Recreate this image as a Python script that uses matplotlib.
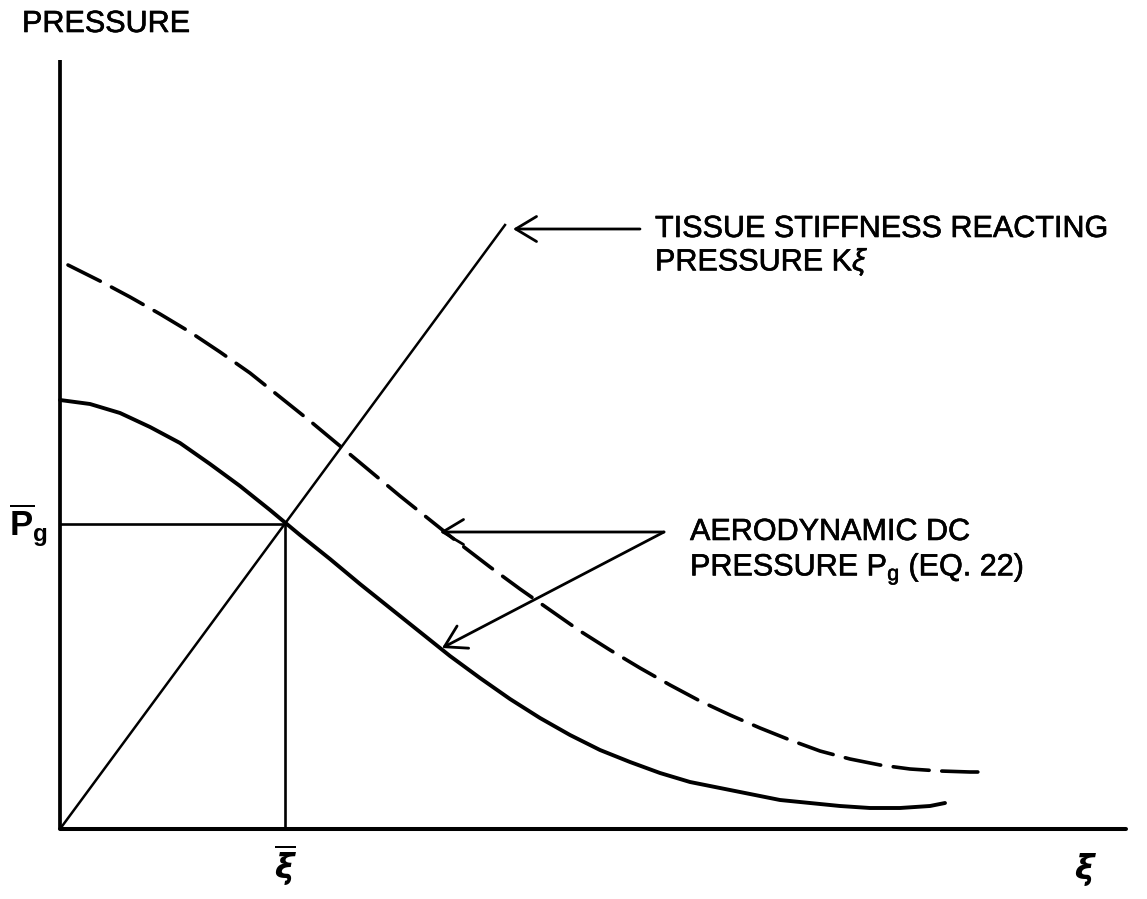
import matplotlib
matplotlib.use('Agg')
import matplotlib.pyplot as plt
import matplotlib.patheffects as pe

plt.rcParams['font.family'] = ['Liberation Sans', 'DejaVu Sans']
plt.rcParams['mathtext.fontset'] = 'custom'
plt.rcParams['mathtext.rm'] = 'Liberation Sans'
plt.rcParams['mathtext.it'] = 'Liberation Sans:italic'
plt.rcParams['mathtext.bf'] = 'Liberation Sans:bold'
plt.rcParams['mathtext.sf'] = 'DejaVu Sans:bold:italic'

# aerodynamic DC pressure P_g (solid) and the raised curve (dashed)
pg_x = [0.0, 0.3, 0.6, 0.9, 1.2, 1.5, 1.8, 2.1, 2.4, 2.7, 3.0, 3.3, 3.6, 3.9, 4.2, 4.5,
        4.8, 5.1, 5.4, 5.7, 6.0, 6.3, 6.6, 6.9, 7.2, 7.5, 7.8, 8.1, 8.4, 8.7, 8.85]
pg_y = [4.29, 4.25, 4.16, 4.02, 3.86, 3.65, 3.43, 3.19, 2.94, 2.70, 2.45, 2.21, 1.97, 1.73, 1.51, 1.30,
        1.11, 0.94, 0.79, 0.67, 0.56, 0.47, 0.41, 0.35, 0.29, 0.26, 0.23, 0.21, 0.21, 0.23, 0.26]
pg2_x = [0.08, 0.4, 0.7, 1.0, 1.3, 1.6, 1.9, 2.2, 2.5, 2.8, 3.1, 3.4, 3.7, 4.0, 4.3, 4.6,
         4.9, 5.2, 5.5, 5.8, 6.1, 6.4, 6.7, 7.0, 7.3, 7.6, 7.9, 8.2, 8.5, 8.8, 9.1, 9.3]
pg2_y = [5.64, 5.48, 5.32, 5.15, 4.97, 4.77, 4.56, 4.32, 4.08, 3.83, 3.58, 3.33, 3.09, 2.85, 2.62, 2.40,
         2.19, 1.98, 1.79, 1.61, 1.44, 1.28, 1.14, 1.01, 0.89, 0.78, 0.70, 0.64, 0.60, 0.58, 0.57, 0.57]

# tissue stiffness line K*xi
kxi_x = [0.0, 4.45]
kxi_y = [0.0, 6.04]

# equilibrium point
xi_bar = 2.25
pg_bar = 3.05

x_end = 10.66
y_end = 7.69

fig = plt.figure(figsize=(11.47, 8.99), dpi=100)
ax = fig.add_axes([0, 0, 1, 1])
ax.set_xlim(-0.60, 10.87)
ax.set_ylim(-0.70, 8.29)
ax.axis('off')

# axes
ax.plot([0, 0], [0, y_end], color='black', lw=2.7, solid_capstyle='butt')
ax.plot([0, x_end], [0, 0], color='black', lw=2.9, solid_capstyle='round')

ax.plot(pg_x, pg_y, color='black', lw=2.8, solid_joinstyle='round', solid_capstyle='round')
ax.plot(pg2_x, pg2_y, color='black', lw=2.6, dashes=(10, 3.5), dash_capstyle='round')
ax.plot(kxi_x, kxi_y, color='black', lw=1.8)

ax.plot([0, xi_bar], [pg_bar, pg_bar], color='black', lw=1.9)
ax.plot([xi_bar, xi_bar], [pg_bar, 0], color='black', lw=1.9)

arrow = dict(arrowstyle='->,head_length=0.5,head_width=0.3', lw=2.0,
             color='black', shrinkA=0, shrinkB=0, mutation_scale=30)
ax.annotate('', xy=(4.53, 6.0), xytext=(5.80, 6.0), arrowprops=arrow)
ax.annotate('', xy=(3.80, 2.97), xytext=(6.04, 2.97), arrowprops=arrow)
ax.annotate('', xy=(3.82, 1.81), xytext=(6.04, 2.97), arrowprops=arrow)

fs = 22
heavy = [pe.withStroke(linewidth=0.45, foreground='black')]
ax.text(5.95, 6.0, 'TISSUE STIFFNESS REACTING', fontsize=fs, va='center', ha='left', path_effects=heavy)
ax.text(5.95, 5.67, r'PRESSURE K$\xi$', fontsize=fs, va='center', ha='left', path_effects=heavy)
ax.text(6.30, 2.97, 'AERODYNAMIC DC', fontsize=fs, va='center', ha='left', path_effects=heavy)
ax.text(6.30, 2.60, r'PRESSURE P$_\mathrm{g}$ (EQ. 22)', fontsize=fs, va='center', ha='left', path_effects=heavy)

ax.text(-0.38, 8.05, 'PRESSURE', fontsize=fs, va='center', ha='left', path_effects=heavy)
ax.text(-0.32, 3.04, r'$\overline{\mathbf{P}}_\mathbf{g}$', fontsize=25, va='center', ha='center')
ax.text(xi_bar, -0.36, r'$\overline{\mathsf{\xi}}$', fontsize=24, va='center', ha='center')
ax.text(10.25, -0.41, r'$\mathsf{\xi}$', fontsize=24, va='center', ha='center')

fig.savefig('out.png', dpi=100)
